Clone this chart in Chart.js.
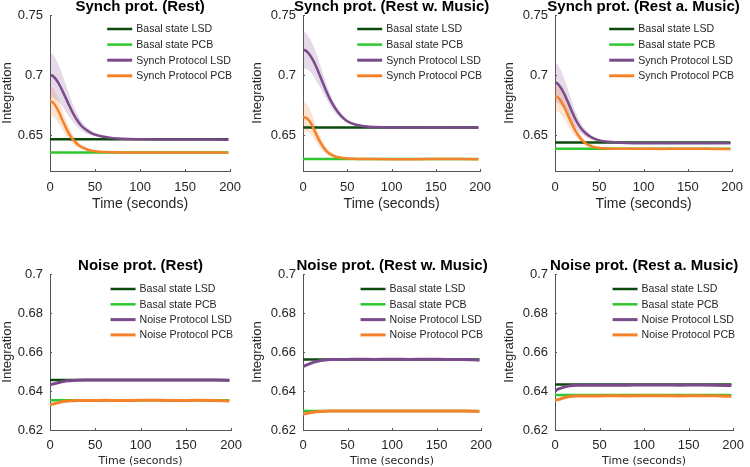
<!DOCTYPE html>
<html>
<head>
<meta charset="utf-8">
<script src="https://cdn.jsdelivr.net/npm/chart.js@4.4.0/dist/chart.umd.min.js"></script>
<style>
  html, body { margin: 0; padding: 0; background: #fff; overflow: hidden; }
  #wrap { position: relative; width: 750px; height: 467px; overflow: hidden; }
  #wrap canvas { position: absolute; }
</style>
</head>
<body>
<div id="wrap">
  <canvas id="p1" width="250" height="230" style="left:0px;top:0px"></canvas>
  <canvas id="p2" width="250" height="230" style="left:250px;top:0px"></canvas>
  <canvas id="p3" width="250" height="230" style="left:502px;top:0px"></canvas>
  <canvas id="p4" width="250" height="229" style="left:0px;top:240px"></canvas>
  <canvas id="p5" width="250" height="229" style="left:250px;top:240px"></canvas>
  <canvas id="p6" width="250" height="229" style="left:502px;top:240px"></canvas>
</div>
<script>
// ---- data ----
const synchTitles = ['Synch prot. (Rest)', 'Synch prot. (Rest w. Music)', 'Synch prot. (Rest a. Music)'];
const noiseTitles = ['Noise prot. (Rest)', 'Noise prot. (Rest w. Music)', 'Noise prot. (Rest a. Music)'];
const synchNames = ['Basal state LSD', 'Basal state PCB', 'Synch Protocol LSD', 'Synch Protocol PCB'];
const noiseNames = ['Basal state LSD', 'Basal state PCB', 'Noise Protocol LSD', 'Noise Protocol PCB'];

const xTicks = [0, 50, 100, 150, 200];
const yTicksTop = [0.65, 0.7, 0.75];
const yLabelsTop = ['0.65', '0.7', '0.75'];
const yTicksBottom = [0.62, 0.64, 0.66, 0.68, 0.7];
const yLabelsBottom = ['0.62', '0.64', '0.66', '0.68', '0.7'];

const synchTime = [0, 3, 6, 10, 14, 18, 22, 26, 30, 35, 40, 45, 50, 60, 70, 80, 100, 120, 140, 160, 180, 198];

const synchRestLSD   = [0.700, 0.6993, 0.6970, 0.6925, 0.6865, 0.6800, 0.6735, 0.6675, 0.6625, 0.6575, 0.6543, 0.6520, 0.6503, 0.6485, 0.6474, 0.6469, 0.6465, 0.6463, 0.6462, 0.6463, 0.6462, 0.6461];
const synchRestLSDsd = [0.018, 0.018, 0.017, 0.015, 0.013, 0.011, 0.009, 0.007, 0.0055, 0.004, 0.003, 0.002, 0.0015, 0.001, 0.0008, 0.0006, 0.0005, 0.0005, 0.0005, 0.0005, 0.0005, 0.0005];
const synchRestPCB   = [0.678, 0.6772, 0.6745, 0.6690, 0.6620, 0.6555, 0.6500, 0.6458, 0.6427, 0.6400, 0.6383, 0.6372, 0.6365, 0.6358, 0.6356, 0.6355, 0.6354, 0.6355, 0.6354, 0.6354, 0.6355, 0.6353];
const synchRestPCBsd = [0.012, 0.012, 0.011, 0.010, 0.008, 0.0065, 0.005, 0.004, 0.003, 0.002, 0.0015, 0.001, 0.0008, 0.0006, 0.0005, 0.0005, 0.0005, 0.0005, 0.0005, 0.0005, 0.0005, 0.0005];

const synchMusicLSD   = [0.721, 0.7203, 0.7183, 0.7140, 0.7083, 0.7015, 0.6942, 0.6870, 0.6805, 0.6738, 0.6685, 0.6645, 0.6615, 0.6585, 0.6572, 0.6566, 0.6563, 0.6563, 0.6562, 0.6562, 0.6563, 0.6561];
const synchMusicLSDsd = [0.015, 0.015, 0.014, 0.013, 0.012, 0.010, 0.008, 0.0065, 0.005, 0.004, 0.003, 0.002, 0.0015, 0.001, 0.0008, 0.0006, 0.0005, 0.0005, 0.0005, 0.0005, 0.0005, 0.0005];
const synchMusicPCB   = [0.665, 0.6645, 0.6628, 0.6585, 0.6520, 0.6460, 0.6410, 0.6370, 0.6345, 0.6325, 0.6314, 0.6308, 0.6304, 0.6301, 0.6300, 0.6299, 0.6298, 0.6298, 0.6299, 0.6299, 0.6299, 0.6298];
const synchMusicPCBsd = [0.012, 0.012, 0.011, 0.009, 0.007, 0.0055, 0.004, 0.003, 0.002, 0.0015, 0.001, 0.0008, 0.0006, 0.0005, 0.0005, 0.0005, 0.0005, 0.0005, 0.0005, 0.0005, 0.0005, 0.0005];

const synchAfterLSD   = [0.694, 0.6928, 0.6900, 0.6850, 0.6785, 0.6715, 0.6648, 0.6593, 0.6550, 0.6512, 0.6485, 0.6467, 0.6455, 0.6443, 0.6437, 0.6434, 0.6432, 0.6432, 0.6432, 0.6432, 0.6432, 0.6431];
const synchAfterLSDsd = [0.016, 0.016, 0.015, 0.013, 0.011, 0.009, 0.007, 0.0055, 0.004, 0.003, 0.002, 0.0015, 0.001, 0.0008, 0.0006, 0.0005, 0.0005, 0.0005, 0.0005, 0.0005, 0.0005, 0.0005];
const synchAfterPCB   = [0.6825, 0.6815, 0.6790, 0.6740, 0.6675, 0.6610, 0.6550, 0.6500, 0.6462, 0.6430, 0.6410, 0.6398, 0.6391, 0.6387, 0.6386, 0.6385, 0.6385, 0.6384, 0.6385, 0.6385, 0.6384, 0.6384];
const synchAfterPCBsd = [0.012, 0.012, 0.011, 0.010, 0.009, 0.007, 0.0055, 0.004, 0.003, 0.002, 0.0015, 0.001, 0.0008, 0.0006, 0.0005, 0.0005, 0.0005, 0.0005, 0.0005, 0.0005, 0.0005, 0.0005];

const synchBasalLSD = [0.6464, 0.6562, 0.6438];
const synchBasalPCB = [0.6355, 0.6300, 0.6385];

const noiseTime = [0, 5, 10, 15, 20, 25, 30, 40, 50, 60, 80, 100, 120, 140, 160, 180, 198];

const noiseRestLSD  = [0.6432, 0.6438, 0.6444, 0.6449, 0.6452, 0.6454, 0.6455, 0.6456, 0.6456, 0.6456, 0.6457, 0.6456, 0.6456, 0.6457, 0.6457, 0.6456, 0.6454];
const noiseRestPCB  = [0.6330, 0.6335, 0.6341, 0.6346, 0.6349, 0.6350, 0.6351, 0.6351, 0.6351, 0.6352, 0.6351, 0.6352, 0.6352, 0.6351, 0.6352, 0.6351, 0.6349];
const noiseMusicLSD = [0.6525, 0.6535, 0.6544, 0.6551, 0.6556, 0.6559, 0.6561, 0.6562, 0.6562, 0.6563, 0.6562, 0.6563, 0.6562, 0.6563, 0.6562, 0.6562, 0.6558];
const noiseMusicPCB = [0.6281, 0.6286, 0.6290, 0.6293, 0.6295, 0.6296, 0.6297, 0.6297, 0.6298, 0.6298, 0.6297, 0.6298, 0.6297, 0.6298, 0.6298, 0.6297, 0.6295];
const noiseAfterLSD = [0.6404, 0.6412, 0.6420, 0.6425, 0.6428, 0.6429, 0.6429, 0.6429, 0.6430, 0.6430, 0.6430, 0.6431, 0.6431, 0.6430, 0.6431, 0.6430, 0.6428];
const noiseAfterPCB = [0.6353, 0.6358, 0.6365, 0.6370, 0.6373, 0.6374, 0.6375, 0.6375, 0.6375, 0.6376, 0.6375, 0.6376, 0.6376, 0.6375, 0.6376, 0.6375, 0.6373];

const noiseBasalLSD = [0.6456, 0.6562, 0.6433];
const noiseBasalPCB = [0.6352, 0.6298, 0.6380];

// ---- styling ----
const darkGreen = '#0c4a0c';
const brightGreen = '#2fc72f';
const purple = '#7b4a8b';
const orange = '#f5822a';
const purpleBand = 'rgba(123, 74, 139, 0.2)';
const orangeBand = 'rgba(245, 130, 42, 0.22)';
const textColor = '#262626';
const axisColor = '#555555';
const sans = "'Liberation Sans', Arial, sans-serif";

function pts(xs, ys) {
    return xs.map((x, i) => ({ x: x, y: ys[i] }));
}
function flat(xs, v) {
    return [{ x: xs[0], y: v }, { x: xs[xs.length - 1], y: v }];
}
function band(xs, m, sd, sign) {
    return xs.map((x, i) => ({ x: x, y: m[i] + sign * sd[i] }));
}

// title drawn above the plot area, centred on it
const panelTitle = {
    id: 'panelTitle',
    afterDraw(chart, args, opts) {
        const { ctx, chartArea } = chart;
        ctx.save();
        ctx.font = 'bold 15px ' + sans;
        ctx.fillStyle = '#000';
        ctx.textAlign = 'center';
        ctx.textBaseline = 'alphabetic';
        ctx.fillText(opts.text, (chartArea.left + chartArea.right) / 2, chartArea.top - 4);
        ctx.restore();
    }
};

// legend in the top right corner of the plot area
const insideLegend = {
    id: 'insideLegend',
    afterDatasetsDraw(chart, args, opts) {
        const { ctx, chartArea } = chart;
        const items = chart.data.datasets.filter(d => d.label);
        ctx.save();
        ctx.font = '10.6px ' + sans;
        const w = Math.max(...items.map(d => ctx.measureText(d.label).width));
        const tx = chartArea.right + 2 - w;
        items.forEach((d, i) => {
            const y = chartArea.top + opts.top + i * opts.step;
            ctx.strokeStyle = d.borderColor;
            ctx.lineWidth = d.legendWidth;
            ctx.beginPath();
            ctx.moveTo(tx - 29, y);
            ctx.lineTo(tx - 4, y);
            ctx.stroke();
            ctx.fillStyle = textColor;
            ctx.textBaseline = 'middle';
            ctx.fillText(d.label, tx, y + 0.5);
        });
        ctx.restore();
    }
};

// small inward tick marks like the original
const innerTicks = {
    id: 'innerTicks',
    afterDraw(chart) {
        const { ctx, chartArea: a, scales: { x, y } } = chart;
        ctx.save();
        ctx.strokeStyle = axisColor;
        ctx.lineWidth = 1;
        x.ticks.forEach(t => {
            const px = Math.round(x.getPixelForValue(t.value)) + 0.5;
            ctx.beginPath(); ctx.moveTo(px, a.bottom); ctx.lineTo(px, a.bottom - 2); ctx.stroke();
        });
        y.ticks.forEach(t => {
            const py = Math.round(y.getPixelForValue(t.value)) + 0.5;
            ctx.beginPath(); ctx.moveTo(a.left, py); ctx.lineTo(a.left + 2, py); ctx.stroke();
        });
        ctx.restore();
    }
};

function makePanel(id, p) {
    const ctx = document.getElementById(id).getContext('2d');
    const datasets = [
        { label: p.names[0], data: flat(p.time, p.basalLSD), borderColor: darkGreen, borderWidth: 2.5, legendWidth: 2.5, order: 2 },
        { label: p.names[1], data: flat(p.time, p.basalPCB), borderColor: brightGreen, borderWidth: 2.5, legendWidth: 2.5, order: 3 },
        { label: p.names[2], data: pts(p.time, p.lsd), borderColor: purple, borderWidth: p.lineW, legendWidth: 3, order: 1 },
        { label: p.names[3], data: pts(p.time, p.pcb), borderColor: orange, borderWidth: p.lineW, legendWidth: 3, order: 0 }
    ];
    if (p.lsdSd) {
        datasets.push(
            { label: '', data: band(p.time, p.lsd, p.lsdSd, 1), borderWidth: 0, backgroundColor: purpleBand, fill: '+1', order: 4 },
            { label: '', data: band(p.time, p.lsd, p.lsdSd, -1), borderWidth: 0, order: 5 },
            { label: '', data: band(p.time, p.pcb, p.pcbSd, 1), borderWidth: 0, backgroundColor: orangeBand, fill: '+1', order: 6 },
            { label: '', data: band(p.time, p.pcb, p.pcbSd, -1), borderWidth: 0, order: 7 }
        );
    }
    return new Chart(ctx, {
        type: 'line',
        data: { datasets: datasets },
        options: {
            responsive: false,
            animation: false,
            events: [],
            layout: { padding: { left: 0, top: p.padTop, right: p.padRight, bottom: 0 } },
            elements: {
                point: { radius: 0 },
                line: { cubicInterpolationMode: 'monotone', borderCapStyle: 'butt' }
            },
            plugins: {
                legend: { display: false },
                tooltip: { enabled: false },
                panelTitle: { text: p.title },
                insideLegend: { top: p.legendTop, step: p.legendStep }
            },
            scales: {
                x: {
                    type: 'linear',
                    min: 0,
                    max: 200,
                    grid: { display: false, drawTicks: false },
                    border: { display: true, color: axisColor, width: 1 },
                    afterBuildTicks: s => { s.ticks = xTicks.map(v => ({ value: v })); },
                    afterFit: s => { s.height = p.xAxisH; },
                    ticks: {
                        padding: p.xTickPad,
                        maxRotation: 0,
                        autoSkip: false,
                        color: textColor,
                        font: { family: sans, size: 13 },
                        callback: v => String(v)
                    },
                    title: {
                        display: true,
                        text: 'Time (seconds)',
                        color: textColor,
                        font: p.xTitleFont,
                        padding: { top: 0, bottom: p.xTitlePad }
                    }
                },
                y: {
                    min: p.yMin,
                    max: p.yMax,
                    grid: { display: false, drawTicks: false },
                    border: { display: true, color: axisColor, width: 1 },
                    afterBuildTicks: s => { s.ticks = p.yTicks.map(v => ({ value: v })); },
                    afterFit: s => { s.width = p.yAxisW; },
                    ticks: {
                        padding: 7,
                        color: textColor,
                        font: { family: sans, size: 13 },
                        callback: (v, i) => p.yLabels[i]
                    },
                    title: {
                        display: true,
                        text: 'Integration',
                        color: textColor,
                        font: { family: sans, size: 13 },
                        padding: { top: 0, bottom: 0 }
                    }
                }
            }
        },
        plugins: [panelTitle, insideLegend, innerTicks]
    });
}

document.addEventListener('DOMContentLoaded', function() {
    const topRow = {
        time: synchTime, names: synchNames, lineW: 2.5,
        yMin: 0.62, yMax: 0.75, yTicks: yTicksTop, yLabels: yLabelsTop,
        padTop: 15, xAxisH: 59, xTickPad: 9, xTitlePad: 17,
        xTitleFont: { family: sans, size: 14 },
        legendTop: 14, legendStep: 15.6
    };
    const bottomRow = {
        time: noiseTime, names: noiseNames, lineW: 3,
        yMin: 0.62, yMax: 0.7, yTicks: yTicksBottom, yLabels: yLabelsBottom,
        padTop: 34, xAxisH: 39, xTickPad: 8, xTitlePad: 1,
        xTitleFont: { family: "'DejaVu Sans', sans-serif", size: 11 },
        legendTop: 15, legendStep: 15.3
    };

    makePanel('p1', Object.assign({}, topRow, { title: synchTitles[0], yAxisW: 50, padRight: 16,
        lsd: synchRestLSD, lsdSd: synchRestLSDsd, pcb: synchRestPCB, pcbSd: synchRestPCBsd,
        basalLSD: synchBasalLSD[0], basalPCB: synchBasalPCB[0] }));
    makePanel('p2', Object.assign({}, topRow, { title: synchTitles[1], yAxisW: 53, padRight: 14,
        lsd: synchMusicLSD, lsdSd: synchMusicLSDsd, pcb: synchMusicPCB, pcbSd: synchMusicPCBsd,
        basalLSD: synchBasalLSD[1], basalPCB: synchBasalPCB[1] }));
    makePanel('p3', Object.assign({}, topRow, { title: synchTitles[2], yAxisW: 53, padRight: 13,
        lsd: synchAfterLSD, lsdSd: synchAfterLSDsd, pcb: synchAfterPCB, pcbSd: synchAfterPCBsd,
        basalLSD: synchBasalLSD[2], basalPCB: synchBasalPCB[2] }));

    makePanel('p4', Object.assign({}, bottomRow, { title: noiseTitles[0], yAxisW: 50, padRight: 16,
        lsd: noiseRestLSD, pcb: noiseRestPCB,
        basalLSD: noiseBasalLSD[0], basalPCB: noiseBasalPCB[0] }));
    makePanel('p5', Object.assign({}, bottomRow, { title: noiseTitles[1], yAxisW: 53, padRight: 14,
        lsd: noiseMusicLSD, pcb: noiseMusicPCB,
        basalLSD: noiseBasalLSD[1], basalPCB: noiseBasalPCB[1] }));
    makePanel('p6', Object.assign({}, bottomRow, { title: noiseTitles[2], yAxisW: 53, padRight: 13,
        lsd: noiseAfterLSD, pcb: noiseAfterPCB,
        basalLSD: noiseBasalLSD[2], basalPCB: noiseBasalPCB[2] }));
});
</script>
</body>
</html>
